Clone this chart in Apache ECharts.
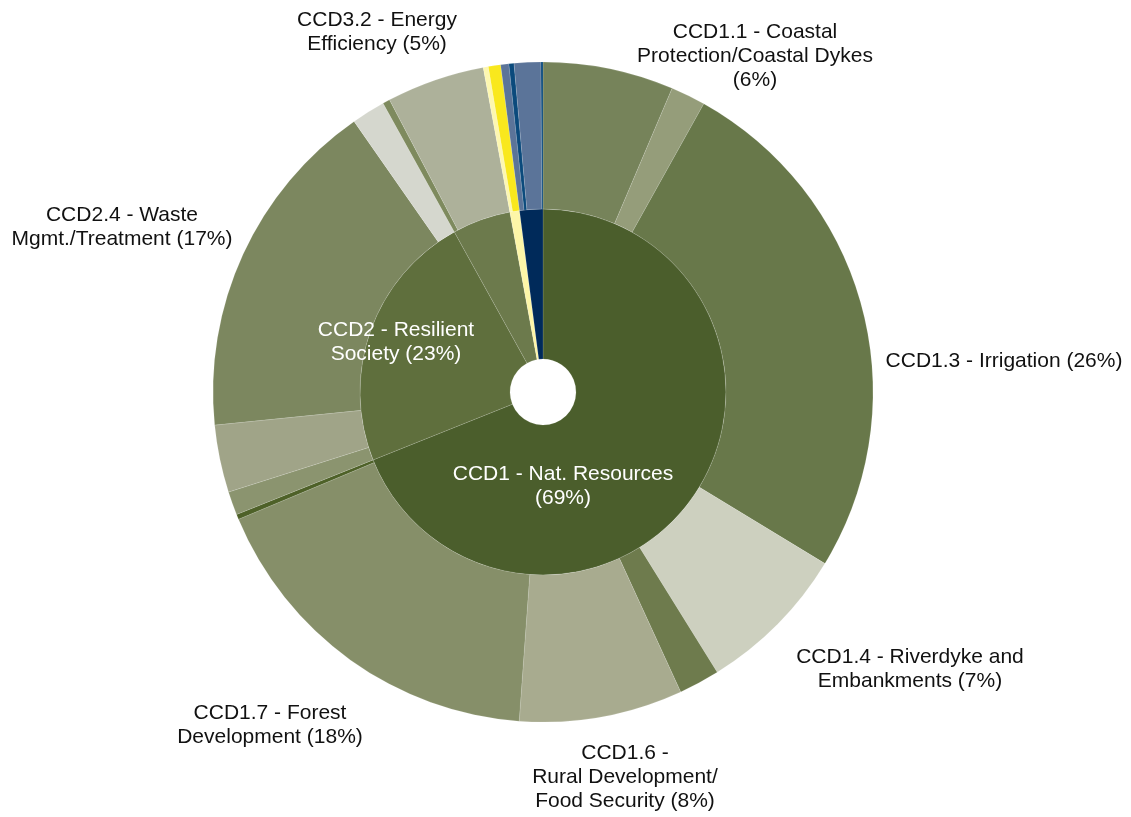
<!DOCTYPE html>
<html>
<head>
<meta charset="utf-8">
<script src="https://cdn.jsdelivr.net/npm/echarts@6/dist/echarts.min.js"></script>
<style>
  html, body { margin: 0; padding: 0; background: #ffffff; }
  #chart { width: 1131px; height: 817px; }
</style>
</head>
<body>
<div id="chart"></div>
<script>
// Climate change budget shares (%), by CCD category (inner ring)
const groupNames = ['CCD1', 'CCD2', 'CCD3', 'CCD4', 'CCD5'];
const groupShares = [68.95, 23.0, 5.15, 0.85, 2.05];
const groupLabels = ['CCD1 - Nat. Resources\n({p}%)', 'CCD2 - Resilient\nSociety ({p}%)', '', '', ''];

// Sub-categories (outer ring), in the same clockwise order
const subNames = [
  'CCD1.1', 'CCD1.2', 'CCD1.3', 'CCD1.4', 'CCD1.5', 'CCD1.6', 'CCD1.7', 'CCD1.8',
  'CCD2.1', 'CCD2.2', 'CCD2.4', 'CCD2.5',
  'CCD3.1', 'CCD3.2',
  'CCD4.1', 'CCD4.2',
  'CCD5.1', 'CCD5.2', 'CCD5.3', 'CCD5.4'
];
const subShares = [
  6.4, 1.7, 25.6, 7.45, 2.0, 8.0, 17.55, 0.25,
  1.15, 3.3, 16.9, 1.65,
  0.35, 4.8,
  0.25, 0.6,
  0.4, 0.25, 1.3, 0.1
];
const subLabels = [
  'CCD1.1 - Coastal\nProtection/Coastal Dykes\n({p}%)', '', 'CCD1.3 - Irrigation ({p}%)',
  'CCD1.4 - Riverdyke and\nEmbankments ({p}%)', '', 'CCD1.6 -\nRural Development/\nFood Security ({p}%)',
  'CCD1.7 - Forest\nDevelopment ({p}%)', '',
  '', '', 'CCD2.4 - Waste\nMgmt./Treatment ({p}%)', '',
  '', 'CCD3.2 - Energy\nEfficiency ({p}%)',
  '', '',
  '', '', '', ''
];

// Fill colours
const groupColors = ['#4b5e2c', '#5f6f3d', '#6c7a4c', '#fdf6a8', '#002a5a'];
const subColors = [
  '#76835a', '#959d7a', '#68784a', '#cdd0bf', '#6e7b4d', '#a8ab8f', '#868f69', '#4e6128',
  '#8b946f', '#a0a488', '#7c875f', '#d5d7ce',
  '#7e8a5e', '#adb19a',
  '#fdf7b0', '#f9e81d',
  '#5b7499', '#0b4a7c', '#5b7499', '#0b4a7c'
];

// Where each visible label block is centred
const groupLabelPos = { 'CCD1': [563, 486], 'CCD2': [396, 342] };
const subLabelPos = {
  'CCD1.1': [755, 56], 'CCD1.3': [1004, 361], 'CCD1.4': [910, 669],
  'CCD1.6': [625, 777], 'CCD1.7': [270, 725], 'CCD2.4': [122, 227], 'CCD3.2': [377, 32]
};

const FONT = 'Arial, "Liberation Sans", sans-serif';
const CX = 543, CY = 392;

function buildData(names, values, colors, labels) {
  return names.map((n, i) => ({
    name: n,
    value: values[i],
    itemStyle: { color: colors[i] },
    label: { show: labels[i] !== '' }
  }));
}

const innerData = buildData(groupNames, groupShares, groupColors, groupLabels);
const outerData = buildData(subNames, subShares, subColors, subLabels);

function fmt(list) {
  return p => list[p.dataIndex].replace('{p}', Math.round(p.percent));
}

function layoutFor(posMap, names) {
  return p => {
    const pos = posMap[names[p.dataIndex]];
    if (!pos) return {};
    return { x: pos[0], y: pos[1], align: 'center', verticalAlign: 'middle' };
  };
}

const border = { borderColor: 'rgba(255,255,255,0.25)', borderWidth: 0.5 };

const chart = echarts.init(document.getElementById('chart'), null, { renderer: 'canvas' });
chart.setOption({
  animation: false,
  backgroundColor: '#ffffff',
  series: [
    {
      type: 'pie',
      center: [CX, CY],
      radius: [33, 183],
      startAngle: 90,
      clockwise: true,
      avoidLabelOverlap: false,
      silent: true,
      itemStyle: border,
      label: {
        position: 'inside',
        color: '#ffffff',
        fontFamily: FONT,
        fontSize: 21,
        lineHeight: 24,
        align: 'center',
        formatter: fmt(groupLabels)
      },
      labelLine: { show: false },
      labelLayout: layoutFor(groupLabelPos, groupNames),
      data: innerData
    },
    {
      type: 'pie',
      center: [CX, CY],
      radius: [183, 330],
      startAngle: 90,
      clockwise: true,
      avoidLabelOverlap: false,
      silent: true,
      itemStyle: border,
      label: {
        position: 'outside',
        color: '#111111',
        fontFamily: FONT,
        fontSize: 21,
        lineHeight: 24,
        align: 'center',
        formatter: fmt(subLabels)
      },
      labelLine: { show: false },
      labelLayout: layoutFor(subLabelPos, subNames),
      data: outerData
    }
  ]
});
</script>
</body>
</html>
